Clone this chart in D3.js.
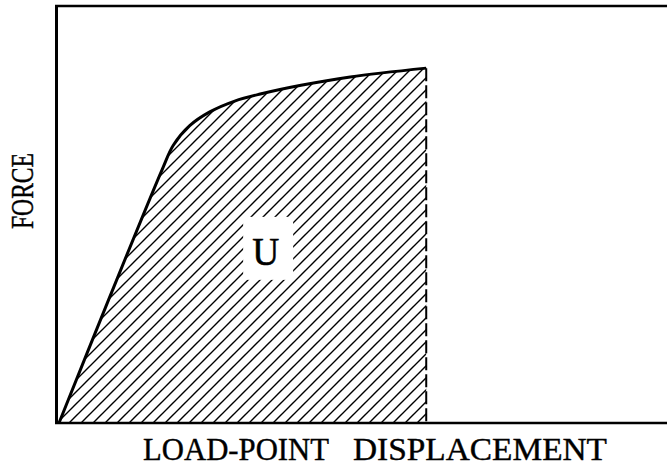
<!DOCTYPE html>
<html>
<head>
<meta charset="utf-8">
<script src="https://cdn.jsdelivr.net/npm/d3@7"></script>
<style>
  html, body { margin: 0; padding: 0; background: #fff; }
  svg { display: block; }
</style>
</head>
<body>
<svg id="chart" width="667" height="468"></svg>
<script>
// ---- data (arbitrary units) ----
const displacement = [0, 0.82, 1.70, 1.88, 2.15, 2.48, 2.89, 3.31, 3.98, 4.79, 6.04];
const force        = [0, 2.97, 6.09, 6.66, 7.13, 7.46, 7.72, 7.89, 8.10, 8.30, 8.51];
const areaLabel = "U";
const xTitle = ["LOAD-POINT", "DISPLACEMENT"];
const yTitle = "FORCE";

const svg = d3.select("#chart");
const x = d3.scaleLinear().domain([0, 10]).range([59, 667]);
const y = d3.scaleLinear().domain([0, 10]).range([423, 6]);

const pts = displacement.map((d, i) => [d, force[i]]);
const xEnd = displacement[displacement.length - 1];
const fEnd = force[force.length - 1];

// hatch pattern: "/" lines
const s = 12;
const defs = svg.append("defs");
const pat = defs.append("pattern")
  .attr("id", "hatch")
  .attr("patternUnits", "userSpaceOnUse")
  .attr("width", s).attr("height", s);
pat.append("path")
  .attr("d", `M0,${s} L${s},0 M${-s/2},${s/2} L${s/2},${-s/2} M${s/2},${s*1.5} L${s*1.5},${s/2}`)
  .attr("stroke", "#000").attr("stroke-width", 1.4);

const curve = d3.curveCatmullRom.alpha(0.5);

// hatched area under the curve
const area = d3.area()
  .x(d => x(d[0])).y0(y(0)).y1(d => y(d[1]))
  .curve(curve);
svg.append("path").datum(pts)
  .attr("d", area)
  .attr("fill", "url(#hatch)");

const serif = "'Liberation Serif', 'Times New Roman', serif";

// label U with white background
const ux = x(3.44), uy = y(4.2);
svg.append("rect")
  .attr("x", ux - 25).attr("y", uy - 31)
  .attr("width", 50).attr("height", 63)
  .attr("fill", "#fff");
svg.append("text")
  .attr("x", ux - 16).attr("y", uy + 17)
  .attr("font-family", serif)
  .attr("font-size", 41)
  .attr("textLength", 27).attr("lengthAdjust", "spacingAndGlyphs")
  .attr("fill", "#000").attr("stroke", "#000").attr("stroke-width", 0.6)
  .text(areaLabel);

// frame (left, top, bottom)
svg.append("line").attr("x1", x(0) - 2.5).attr("x2", x(0) - 2.5).attr("y1", y(10) - 1).attr("y2", y(0) + 1)
  .attr("stroke", "#000").attr("stroke-width", 3);
svg.append("line").attr("x1", x(0) - 4).attr("x2", x(10)).attr("y1", y(10)).attr("y2", y(10))
  .attr("stroke", "#000").attr("stroke-width", 2.5);
svg.append("line").attr("x1", x(0) - 4).attr("x2", x(10)).attr("y1", y(0)).attr("y2", y(0))
  .attr("stroke", "#000").attr("stroke-width", 2.5);

// dashed vertical line at end
svg.append("line")
  .attr("x1", x(xEnd)).attr("x2", x(xEnd))
  .attr("y1", y(fEnd)).attr("y2", y(0))
  .attr("stroke", "#000").attr("stroke-width", 2)
  .attr("stroke-dasharray", "13,4");

// curve
const line = d3.line().x(d => x(d[0])).y(d => y(d[1])).curve(curve);
svg.append("path").datum(pts)
  .attr("d", line)
  .attr("fill", "none")
  .attr("stroke", "#000")
  .attr("stroke-width", 3)
  .attr("stroke-linejoin", "round");

// axis titles
function title(sel) {
  return sel.attr("font-family", serif).attr("font-size", 32)
    .attr("lengthAdjust", "spacingAndGlyphs")
    .attr("fill", "#000").attr("stroke", "#000").attr("stroke-width", 0.4);
}
svg.append("text").call(title)
  .attr("x", 143).attr("y", 460)
  .attr("textLength", 186)
  .text(xTitle[0]);
svg.append("text").call(title)
  .attr("x", 353).attr("y", 460)
  .attr("textLength", 254)
  .text(xTitle[1]);
svg.append("text").call(title)
  .attr("transform", "translate(33,229) rotate(-90)")
  .attr("textLength", 76)
  .text(yTitle);
</script>
</body>
</html>
